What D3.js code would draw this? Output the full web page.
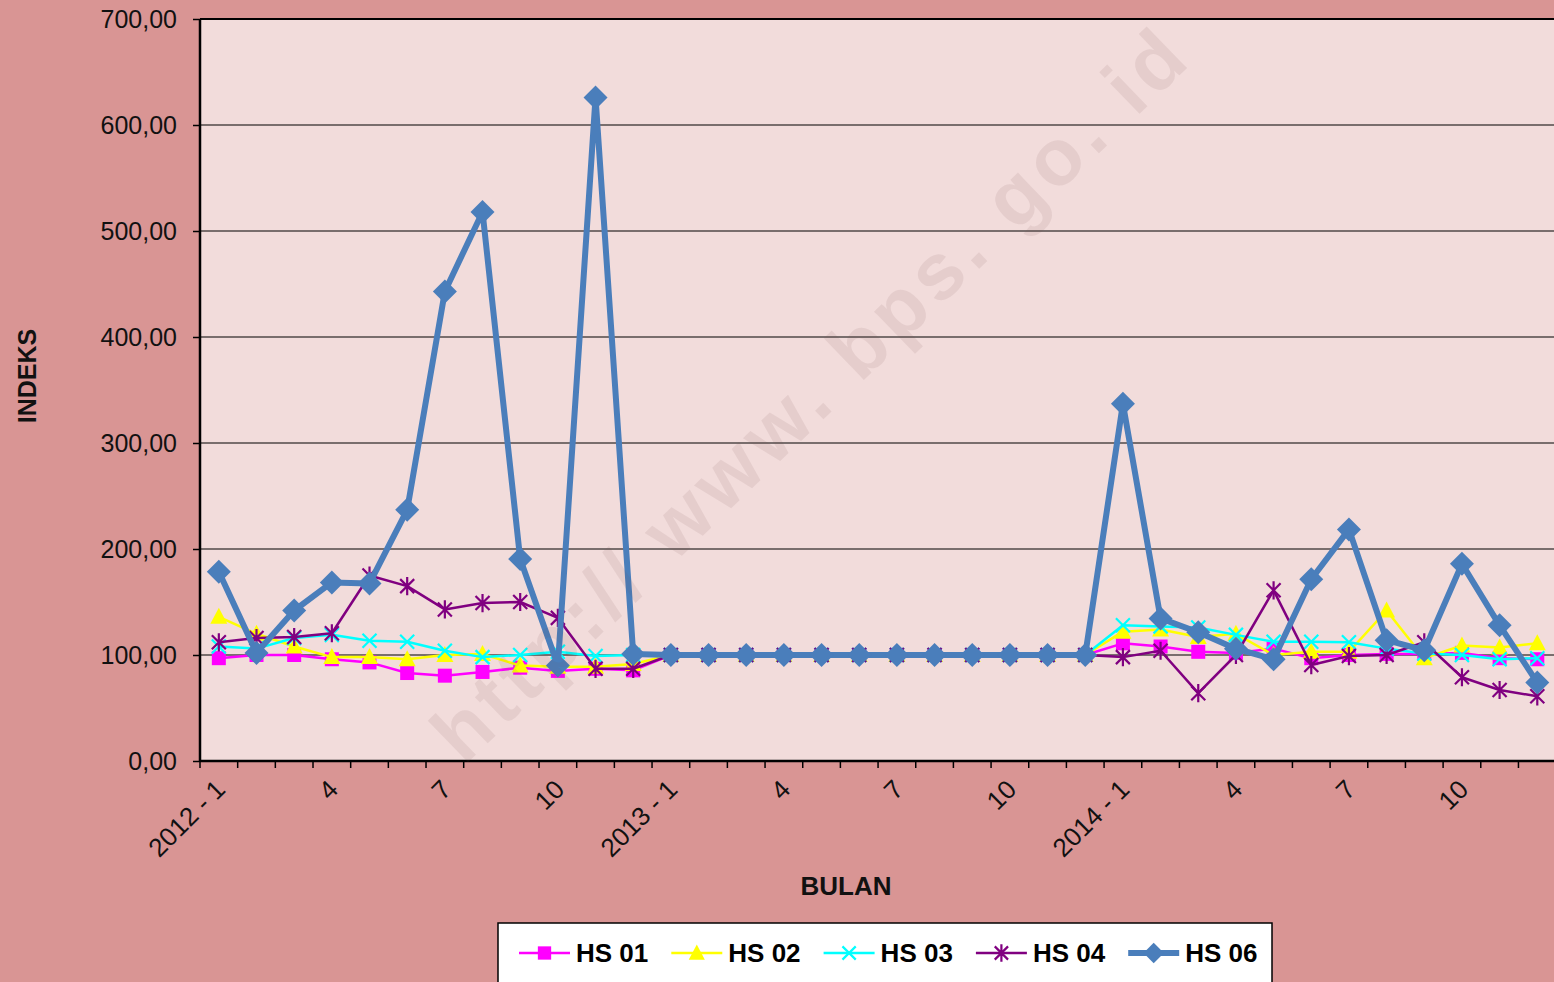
<!DOCTYPE html>
<html>
<head>
<meta charset="utf-8">
<script src="https://cdn.jsdelivr.net/npm/d3@7"></script>
<style>
  body { margin: 0; background: #D99594; }
  svg { display: block; font-family: Arial, "Liberation Sans", sans-serif; }
</style>
</head>
<body>
<svg id="chart"></svg>
<script>
// months 2012-1 .. 2014-12
var years = [2012, 2013, 2014];
var months = d3.range(1, 13);
var categories = [];
years.forEach(function (yr) {
  months.forEach(function (m) { categories.push(yr + "-" + m); });
});
var tickLabel = function (c) {
  var p = c.split("-"), m = +p[1];
  if (m === 1) return p[0] + " - 1";
  return (m - 1) % 3 === 0 ? String(m) : "";
};

var yTicks = [0, 100, 200, 300, 400, 500, 600, 700];

var flat2013 = [100, 100, 100, 100, 100, 100, 100, 100, 100, 100, 100, 100];

var hs01 = [97, 100, 100, 96, 93, 83, 80.5, 84, 88, 85, 87, 85.5].concat(flat2013,
  [111, 108, 103, 102, 106, 97, 100, 101, 101, 102, 97, 96]);
var hs02 = [136, 120, 108, 98, 98, 96, 100, 101, 90, 89, 89, 91.5].concat(flat2013,
  [122, 124, 117, 120, 100, 103, 103, 142, 97, 109, 107, 111]);
var hs03 = [108, 106, 116, 119, 113.5, 112.5, 104, 98, 100, 103, 99, 100].concat(flat2013,
  [128, 127, 126, 119, 112.5, 112.5, 112, 106, 101.5, 100, 96, 97]);
var hs04 = [112, 116, 117, 120.5, 175, 165, 143, 149, 150, 135, 87, 87].concat(flat2013,
  [98, 104, 64, 100, 161, 90.5, 99, 100, 112, 79, 67, 61]);
var hs06 = [178.5, 102, 142, 168.5, 167.5, 237, 443, 518, 190.5, 90, 626, 101].concat(flat2013,
  [337, 134.5, 121.5, 106, 96, 171.5, 218.5, 114, 104.5, 186, 128, 74]);

var seriesNames = ["HS 01", "HS 02", "HS 03", "HS 04", "HS 06"];
var seriesValues = [hs01, hs02, hs03, hs04, hs06];

var W = 1554, H = 982;
var margin = {left: 200, top: 19, bottom: 221};
var plotW = 36 * 37.67;
var plotH = H - margin.top - margin.bottom;

var styles = [
  {color: "#FF00FF", width: 2.5, marker: "square"},
  {color: "#FFFF00", width: 2.5, marker: "triangle"},
  {color: "#00FFFF", width: 2.5, marker: "x"},
  {color: "#800080", width: 2.5, marker: "star"},
  {color: "#4A7EBB", width: 6, marker: "diamond"}
];

var svg = d3.select("#chart").attr("width", W).attr("height", H);

svg.append("rect").attr("width", W).attr("height", H).attr("fill", "#D99594");

var g = svg.append("g").attr("transform", "translate(" + margin.left + "," + margin.top + ")");

var x = d3.scaleBand().domain(categories).range([0, plotW]).padding(0);
var cx = function (i) { return x(categories[i]) + x.bandwidth() / 2; };
var y = d3.scaleLinear().domain([0, 700]).range([plotH, 0]);

// plot background
g.append("rect").attr("width", plotW).attr("height", plotH).attr("fill", "#F2DCDB");

// gridlines
g.selectAll(".grid").data(yTicks.slice(1)).enter().append("line")
  .attr("x1", 0).attr("x2", plotW)
  .attr("y1", function (d) { return y(d); }).attr("y2", function (d) { return y(d); })
  .attr("stroke", "#000").attr("stroke-width", 1.2);

// watermark
svg.append("text")
  .attr("transform", "translate(815,398) rotate(-44)")
  .attr("text-anchor", "middle")
  .attr("dominant-baseline", "middle")
  .attr("font-size", 80).attr("font-weight", "bold")
  .attr("letter-spacing", 6)
  .attr("fill", "#7a4a4a").attr("fill-opacity", 0.1)
  .text("http:// www. bps. go. id");

// y axis
var yAxis = g.append("g")
  .call(d3.axisLeft(y).tickValues(yTicks).tickSize(7).tickPadding(16)
    .tickFormat(function (d) { return d3.format(".2f")(d).replace(".", ","); }));
yAxis.select(".domain").remove();
yAxis.selectAll("line").attr("stroke", "#000").attr("stroke-width", 1.5);
yAxis.selectAll("text").attr("font-size", 25).attr("fill", "#111")
  .attr("font-family", "Arial, 'Liberation Sans', sans-serif");

// x ticks at band boundaries
var bounds = categories.map(function (c) { return x(c); }).concat([plotW]);
g.selectAll(".xtick").data(bounds).enter().append("line")
  .attr("x1", function (d) { return d; }).attr("x2", function (d) { return d; })
  .attr("y1", plotH).attr("y2", plotH + 7)
  .attr("stroke", "#000").attr("stroke-width", 1.5);

g.selectAll(".xlabel").data(categories).enter().append("text")
  .attr("transform", function (d, i) {
    return "translate(" + (cx(i) + 8) + "," + (plotH + 30) + ") rotate(-45)";
  })
  .attr("text-anchor", "end")
  .attr("font-size", 26).attr("fill", "#111")
  .text(function (d) { return tickLabel(d); });

// frame
g.append("line").attr("x1", 0).attr("x2", 0).attr("y1", 0).attr("y2", plotH)
  .attr("stroke", "#000").attr("stroke-width", 2.5);
g.append("line").attr("x1", 0).attr("x2", plotW).attr("y1", plotH).attr("y2", plotH)
  .attr("stroke", "#000").attr("stroke-width", 2.5);
g.append("line").attr("x1", 0).attr("x2", plotW).attr("y1", 0).attr("y2", 0)
  .attr("stroke", "#000").attr("stroke-width", 2);

// markers
function drawMarker(sel, type, color, s) {
  if (type === "square") {
    sel.append("rect").attr("x", -7 * s).attr("y", -7 * s).attr("width", 14 * s).attr("height", 14 * s)
      .attr("fill", color);
  } else if (type === "triangle") {
    sel.append("path").attr("d", "M0," + (-9 * s) + "L" + (8.5 * s) + "," + (7 * s) + "L" + (-8.5 * s) + "," + (7 * s) + "Z")
      .attr("fill", color);
  } else if (type === "x") {
    var a = 7 * s;
    sel.append("path").attr("d", "M" + -a + "," + -a + "L" + a + "," + a + "M" + -a + "," + a + "L" + a + "," + -a)
      .attr("stroke", color).attr("stroke-width", 2.2).attr("fill", "none");
  } else if (type === "star") {
    var b = 7 * s;
    sel.append("path").attr("d", "M" + -b + "," + -b + "L" + b + "," + b + "M" + -b + "," + b + "L" + b + "," + -b +
        "M0," + (-b * 1.3) + "L0," + (b * 1.3))
      .attr("stroke", color).attr("stroke-width", 2.2).attr("fill", "none");
  } else if (type === "diamond") {
    var c = 12 * s;
    sel.append("path").attr("d", "M0," + -c + "L" + c + ",0L0," + c + "L" + -c + ",0Z")
      .attr("fill", color);
  }
}

var line = d3.line()
  .x(function (d, i) { return cx(i); })
  .y(function (d) { return y(d); });

seriesValues.forEach(function (vals, k) {
  var st = styles[k];
  var sg = g.append("g");
  sg.append("path").datum(vals)
    .attr("d", line)
    .attr("fill", "none")
    .attr("stroke", st.color)
    .attr("stroke-width", st.width)
    .attr("stroke-linejoin", "round");
  sg.selectAll(".pt").data(vals).enter().append("g")
    .attr("transform", function (d, i) { return "translate(" + cx(i) + "," + y(d) + ")"; })
    .each(function () { drawMarker(d3.select(this), st.marker, st.color, 1); });
});

// axis titles
svg.append("text")
  .attr("transform", "translate(36,376) rotate(-90)")
  .attr("text-anchor", "middle")
  .attr("font-size", 25).attr("font-weight", "bold").attr("fill", "#111")
  .text("INDEKS");

svg.append("text")
  .attr("x", 846).attr("y", 895)
  .attr("text-anchor", "middle")
  .attr("font-size", 26).attr("font-weight", "bold").attr("fill", "#111")
  .text("BULAN");

// legend
var legend = svg.append("g").attr("transform", "translate(498,923)");
legend.append("rect").attr("width", 774).attr("height", 80)
  .attr("fill", "#fff").attr("stroke", "#000").attr("stroke-width", 1.5);

var legItems = legend.selectAll(".leg").data(seriesNames).enter().append("g")
  .attr("transform", function (d, i) { return "translate(" + (21 + i * 152.3) + ",30)"; });

legItems.each(function (d, i) {
  var it = d3.select(this), st = styles[i];
  it.append("line").attr("x1", 0).attr("x2", 51).attr("y1", 0).attr("y2", 0)
    .attr("stroke", st.color).attr("stroke-width", st.width);
  var mg = it.append("g").attr("transform", "translate(25.5,0)");
  drawMarker(mg, st.marker, st.color, st.marker === "diamond" ? 0.85 : 0.95);
  it.append("text").attr("x", 57).attr("y", 9)
    .attr("font-size", 26).attr("font-weight", "bold").attr("fill", "#000")
    .text(d);
});
</script>
</body>
</html>
